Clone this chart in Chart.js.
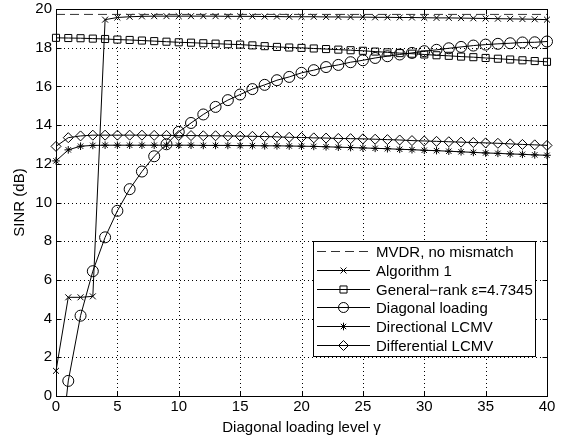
<!DOCTYPE html>
<html>
<head>
<meta charset="utf-8">
<script src="https://cdn.jsdelivr.net/npm/chart.js@4.4.0/dist/chart.umd.min.js"></script>
<style>
  html, body { margin: 0; padding: 0; background: #fff; }
  #wrap { width: 570px; height: 438px; position: relative; }
</style>
</head>
<body>
<div id="wrap"><canvas id="c" width="570" height="438"></canvas></div>
<script>
// ---- data ----
const gammas = [0,1,2,3,4,5,6,7,8,9,10,11,12,13,14,15,16,17,18,19,20,21,22,23,24,25,26,27,28,29,30,31,32,33,34,35,36,37,38,39,40];
const mvdrGammas = [0, 40];
const mvdrNoMismatch = [19.72, 19.72];
const algorithm1 = [1.3,5.1,5.1,5.15,19.45,19.56,19.6,19.62,19.63,19.63,19.63,19.63,19.63,19.63,19.62,19.62,19.62,19.61,19.61,19.6,19.6,19.6,19.59,19.59,19.58,19.58,19.57,19.57,19.56,19.56,19.55,19.54,19.54,19.53,19.52,19.51,19.5,19.49,19.48,19.47,19.45];
const generalRank = [18.51,18.5,18.49,18.47,18.45,18.42,18.4,18.37,18.34,18.31,18.28,18.26,18.23,18.21,18.18,18.16,18.12,18.08,18.04,18.01,17.99,17.96,17.93,17.9,17.87,17.84,17.8,17.76,17.72,17.69,17.65,17.61,17.58,17.54,17.51,17.47,17.43,17.39,17.35,17.31,17.27];
const diagonalLoading = [-5,0.78,4.15,6.45,8.2,9.57,10.69,11.6,12.39,13.01,13.65,14.11,14.55,14.94,15.29,15.58,15.86,16.08,16.32,16.49,16.7,16.84,17.0,17.11,17.25,17.35,17.47,17.56,17.65,17.73,17.82,17.89,17.97,18.04,18.11,18.16,18.2,18.23,18.27,18.28,18.32];
const directionalLCMV = [12.15,12.72,12.91,12.95,12.96,12.96,12.96,12.96,12.96,12.96,12.96,12.96,12.95,12.95,12.95,12.94,12.94,12.93,12.93,12.92,12.91,12.9,12.88,12.86,12.84,12.82,12.8,12.78,12.75,12.73,12.7,12.68,12.65,12.62,12.59,12.56,12.54,12.51,12.49,12.46,12.44];
const differentialLCMV = [12.9,13.35,13.44,13.48,13.48,13.48,13.48,13.48,13.47,13.47,13.46,13.46,13.45,13.45,13.44,13.43,13.42,13.41,13.39,13.37,13.36,13.34,13.33,13.31,13.3,13.29,13.27,13.25,13.23,13.2,13.18,13.16,13.14,13.12,13.1,13.08,13.06,13.03,13.0,12.98,12.95];
const seriesLabels = ['MVDR, no mismatch','Algorithm 1','General\u2212rank \u03b5=4.7345','Diagonal loading','Directional LCMV','Differential LCMV'];
const xTicks = [0,5,10,15,20,25,30,35,40];
const yTicks = [0,2,4,6,8,10,12,14,16,18,20];
const xTitle = 'Diagonal loading level \u03b3';
const yTitle = 'SINR (dB)';

const FONT = "'Liberation Sans', Arial, Helvetica, sans-serif";
const toPts = (xs, ys) => xs.map((x, i) => ({x: x, y: ys[i]}));

const markers = [
  {style: null, r: 0, dash: [9, 5]},
  {style: 'crossRot', r: 4.2},
  {style: 'rect', r: 5},
  {style: 'circle', r: 5.5},
  {style: 'star', r: 3.8},
  {style: 'rectRot', r: 5}
];
const seriesData = [
  toPts(mvdrGammas, mvdrNoMismatch),
  toPts(gammas, algorithm1),
  toPts(gammas, generalRank),
  toPts(gammas, diagonalLoading),
  toPts(gammas, directionalLCMV),
  toPts(gammas, differentialLCMV)
];

const datasets = seriesData.map((d, i) => ({
  label: seriesLabels[i],
  data: d,
  borderColor: i === 0 ? '#333' : '#000',
  borderWidth: 1,
  borderDash: markers[i].dash || [],
  pointStyle: markers[i].style || 'circle',
  pointRadius: markers[i].r,
  pointHoverRadius: markers[i].r,
  pointBorderColor: '#000',
  pointBorderWidth: 1,
  pointBackgroundColor: 'rgba(0,0,0,0)',
  fill: false,
  tension: 0,
  clip: {left: 8, right: 8, top: 8, bottom: 0}
}));

function drawMarker(ctx, style, x, y, r) {
  ctx.beginPath();
  const s = Math.SQRT1_2 * r;
  switch (style) {
    case 'circle': ctx.arc(x, y, r, 0, Math.PI * 2); break;
    case 'rect': ctx.rect(x - s, y - s, 2 * s, 2 * s); break;
    case 'rectRot': ctx.moveTo(x, y - r); ctx.lineTo(x + r, y); ctx.lineTo(x, y + r); ctx.lineTo(x - r, y); ctx.closePath(); break;
    case 'crossRot': ctx.moveTo(x - s, y - s); ctx.lineTo(x + s, y + s); ctx.moveTo(x - s, y + s); ctx.lineTo(x + s, y - s); break;
    case 'star':
      ctx.moveTo(x - s, y - s); ctx.lineTo(x + s, y + s); ctx.moveTo(x - s, y + s); ctx.lineTo(x + s, y - s);
      ctx.moveTo(x, y - r); ctx.lineTo(x, y + r); ctx.moveTo(x - r, y); ctx.lineTo(x + r, y); break;
  }
  ctx.stroke();
}

const framePlugin = {
  id: 'frame',
  beforeDatasetsDraw(chart) {
    const {ctx, chartArea: a, scales} = chart;
    ctx.save();
    ctx.strokeStyle = '#000';
    ctx.lineWidth = 1;
    ctx.setLineDash([1, 3]);
    ctx.beginPath();
    xTicks.forEach(v => {
      const px = Math.round(scales.x.getPixelForValue(v)) + 0.5;
      ctx.moveTo(px, a.bottom); ctx.lineTo(px, a.top);
    });
    yTicks.forEach(v => {
      const py = Math.round(scales.y.getPixelForValue(v)) + 0.5;
      ctx.moveTo(a.left, py); ctx.lineTo(a.right, py);
    });
    ctx.stroke();
    ctx.restore();
  },
  afterDatasetsDraw(chart) {
    const {ctx, chartArea: a, scales} = chart;
    ctx.save();
    ctx.strokeStyle = '#000';
    ctx.lineWidth = 1;
    ctx.setLineDash([]);
    const L = Math.round(a.left) + 0.5, R = Math.round(a.right) + 0.5, T = Math.round(a.top) + 0.5, B = Math.round(a.bottom) + 0.5;
    ctx.beginPath();
    xTicks.forEach(v => {
      const px = Math.round(scales.x.getPixelForValue(v)) + 0.5;
      ctx.moveTo(px, B); ctx.lineTo(px, B - 5);
      ctx.moveTo(px, T); ctx.lineTo(px, T + 5);
    });
    yTicks.forEach(v => {
      const py = Math.round(scales.y.getPixelForValue(v)) + 0.5;
      ctx.moveTo(L, py); ctx.lineTo(L + 5, py);
      ctx.moveTo(R, py); ctx.lineTo(R - 5, py);
    });
    ctx.stroke();
    ctx.strokeRect(L, T, R - L, B - T);
    ctx.restore();
  },
  afterDraw(chart) {
    const {ctx} = chart;
    ctx.save();
    const bx = 313.5, by = 241.5, bw = 222, bh = 115;
    ctx.fillStyle = '#fff';
    ctx.fillRect(bx, by, bw, bh);
    ctx.strokeStyle = '#000';
    ctx.lineWidth = 1;
    ctx.strokeRect(bx, by, bw, bh);
    ctx.font = '15px ' + FONT;
    ctx.textBaseline = 'middle';
    ctx.textAlign = 'left';
    ctx.fillStyle = '#000';
    for (let i = 0; i < seriesLabels.length; i++) {
      const y = Math.round(251 + i * 18.8) + 0.5;
      ctx.strokeStyle = i === 0 ? '#333' : '#000';
      ctx.setLineDash(markers[i].dash || []);
      ctx.beginPath();
      ctx.moveTo(317, y); ctx.lineTo(370, y);
      ctx.stroke();
      ctx.setLineDash([]);
      if (markers[i].style) {
        ctx.strokeStyle = '#000';
        drawMarker(ctx, markers[i].style, 343.5, y, Math.min(markers[i].r, 5));
      }
      ctx.fillText(seriesLabels[i], 376, y + 1);
    }
    ctx.restore();
  }
};

new Chart(document.getElementById('c'), {
  type: 'line',
  data: {datasets: datasets},
  options: {
    responsive: false,
    animation: false,
    events: [],
    layout: {padding: {left: 0, right: 23, top: 9, bottom: 0}},
    plugins: {legend: {display: false}, tooltip: {enabled: false}},
    scales: {
      x: {
        type: 'linear', min: 0, max: 40,
        afterBuildTicks: s => { s.ticks = xTicks.map(v => ({value: v})); },
        afterFit: s => { s.height = 42; s.paddingLeft = 0; s.paddingRight = 0; },
        grid: {display: false, drawTicks: false},
        border: {display: false},
        ticks: {font: {family: FONT, size: 15}, color: '#000', padding: 2, maxRotation: 0},
        title: {display: true, text: xTitle, font: {family: FONT, size: 15}, color: '#000', padding: {top: 0, bottom: 1}}
      },
      y: {
        type: 'linear', min: 0, max: 20,
        afterBuildTicks: s => { s.ticks = yTicks.map(v => ({value: v})); },
        afterFit: s => { s.width = 56; s.paddingTop = 0; s.paddingBottom = 0; },
        grid: {display: false, drawTicks: false},
        border: {display: false},
        ticks: {font: {family: FONT, size: 15}, color: '#000', padding: 4},
        title: {display: true, text: yTitle, font: {family: FONT, size: 15}, color: '#000', padding: {top: 11, bottom: 0}}
      }
    }
  },
  plugins: [framePlugin]
});
</script>
</body>
</html>
